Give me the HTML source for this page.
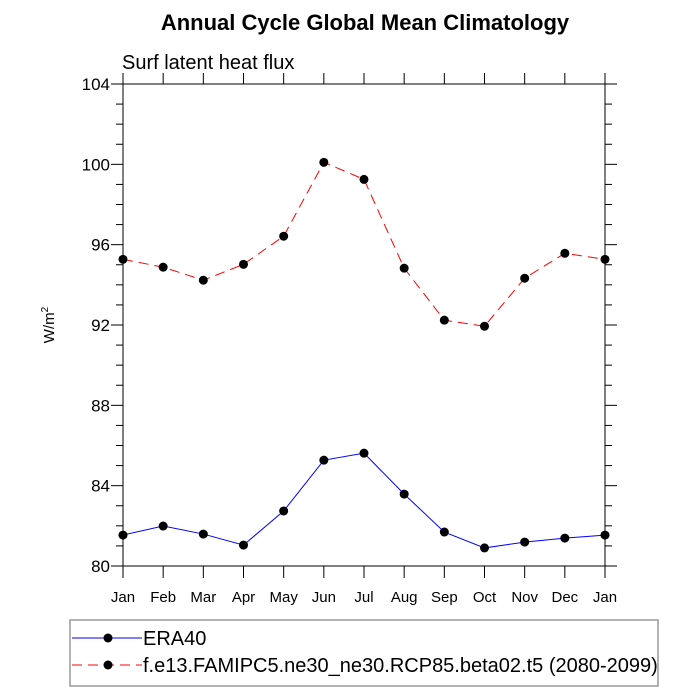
<!DOCTYPE html>
<html><head><meta charset="utf-8"><style>body{margin:0;background:#fff}svg{display:block;font-family:"Liberation Sans",sans-serif}</style></head>
<body>
<svg id="c" width="700" height="700">
<text x="365" y="30" text-anchor="middle" font-size="22" font-weight="bold">Annual Cycle Global Mean Climatology</text>
<text x="122" y="69" font-size="20">Surf latent heat flux</text>
<text transform="translate(54,325) rotate(-90)" text-anchor="middle" font-size="15">W/m<tspan dy="-6" font-size="10">2</tspan></text>
<g id="axes"></g><g id="series"></g>
<rect x="70" y="620" width="588" height="66" fill="none" stroke="#999" stroke-width="1.5"/>
<g><line x1="72" y1="638" x2="142" y2="638" stroke="#00f"/><circle cx="108" cy="638" r="4.5"/><text x="143" y="645" font-size="20">ERA40</text></g>
<g><line x1="72" y1="665" x2="142" y2="665" stroke="#f00" stroke-dasharray="10,6"/><circle cx="108" cy="665" r="4.5"/><text x="143" y="672" font-size="20">f.e13.FAMIPC5.ne30_ne30.RCP85.beta02.t5 (2080-2099)</text></g>
</svg>
<script>
const months=["Jan","Feb","Mar","Apr","May","Jun","Jul","Aug","Sep","Oct","Nov","Dec","Jan"];
const era40=[81.54,81.99,81.59,81.04,82.74,85.27,85.62,83.58,81.69,80.9,81.19,81.39,81.54];
const model=[95.27,94.88,94.23,95.02,96.42,100.1,99.25,94.83,92.24,91.94,94.33,95.57,95.27];
const yTicks=[80,84,88,92,96,100,104];
const NS="http://www.w3.org/2000/svg";
const L=123,R=605,T=84,B=566,yMin=80,yMax=104;
const xs=i=>L+(R-L)*i/(months.length-1);
const ys=v=>B-(B-T)*(v-yMin)/(yMax-yMin);
function mk(tag,at,p){const e=document.createElementNS(NS,tag);for(const k in at)e.setAttribute(k,at[k]);p.appendChild(e);return e;}
const ax=document.getElementById('axes');
const fr=mk('rect',{x:L,y:T,width:R-L,height:B-T,fill:'none',stroke:'#000','stroke-width':1},ax);


for(let v=yMin;v<=yMax;v++){const y=ys(v);const maj=yTicks.includes(v);const len=maj?12:7;
mk('line',{x1:L-len,y1:y,x2:L,y2:y,stroke:'#000'},ax);mk('line',{x1:R,y1:y,x2:R+len,y2:y,stroke:'#000'},ax);}
yTicks.forEach(v=>{const t=mk('text',{x:L-13,y:ys(v)+6,'text-anchor':'end','font-size':17},ax);t.textContent=v;

});
months.forEach((m,i)=>{const x=xs(i);mk('line',{x1:x,y1:B,x2:x,y2:B+12,stroke:'#000'},ax);mk('line',{x1:x,y1:T-11,x2:x,y2:T,stroke:'#000'},ax);
const t=mk('text',{x:x,y:B+36,'text-anchor':'middle','font-size':15},ax);t.textContent=m;

});
const sg=document.getElementById('series');
function draw(vals,color,dash,name){const g=mk('g',{},sg);


const at={points:vals.map((v,i)=>xs(i)+','+ys(v)).join(' '),fill:'none',stroke:color,'stroke-width':1};if(dash)at['stroke-dasharray']=dash;mk('polyline',at,g);
vals.forEach((v,i)=>{const c=mk('circle',{cx:xs(i),cy:ys(v),r:4.5},g);

});}
draw(model,'#f00','10,6','series-model');
draw(era40,'#00f',null,'series-era40');
</script>
</body></html>
